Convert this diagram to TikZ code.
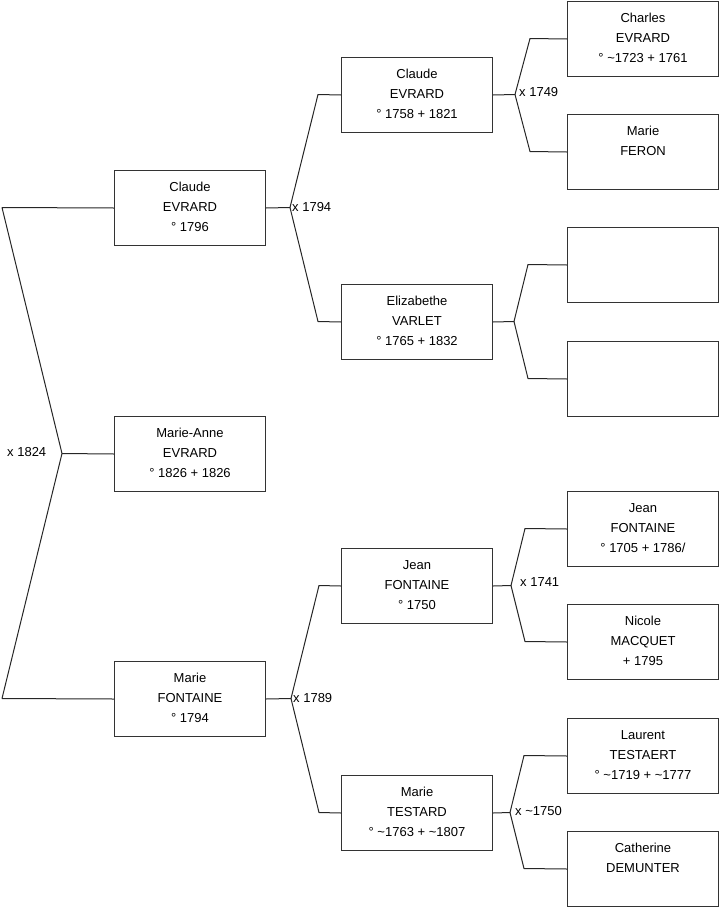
\documentclass[tikz,border=0pt]{standalone}
\usepackage{fontspec}
\setmainfont{Liberation Sans}
\newcommand\pl[3]{\parbox[c][75pt][t]{151pt}{\centering\rule{0pt}{21pt}#1\strut\\\strut #2\\\strut #3}}
\newcommand\tl{\textasciitilde}
\tikzset{
  pbox/.style={draw=black!80, line width=1pt, inner sep=0pt, minimum width=151pt, minimum height=75pt, anchor=north west, font=\fontsize{13}{20}\selectfont},
  conn/.style={draw=black!85, line width=1pt, line join=bevel},
  mlab/.style={anchor=west, inner sep=0pt, font=\fontsize{13}{20}\selectfont}
}
\begin{document}
\begin{tikzpicture}[x=1pt,y=-1pt]
\useasboundingbox (0,0) rectangle (719,908);
% level 1
\node[pbox] (a1) at (114,170) {\pl{Claude}{EVRARD}{° 1796}};
\node[pbox] (a2) at (114,416) {\pl{Marie-Anne}{EVRARD}{° 1826 + 1826}};
\node[pbox] (a3) at (114,661) {\pl{Marie}{FONTAINE}{° 1794}};
% level 2
\node[pbox] (b1) at (341,57) {\pl{Claude}{EVRARD}{° 1758 + 1821}};
\node[pbox] (b2) at (341,284) {\pl{Elizabethe}{VARLET}{° 1765 + 1832}};
\node[pbox] (b3) at (341,548) {\pl{Jean}{FONTAINE}{° 1750}};
\node[pbox] (b4) at (341,775) {\pl{Marie}{TESTARD}{° \tl1763 + \tl1807}};
% level 3
\node[pbox] (c1) at (567,1) {\pl{Charles}{EVRARD}{° \tl1723 + 1761}};
\node[pbox] (c2) at (567,114) {\pl{Marie}{FERON}{}};
\node[pbox] (c3) at (567,227) {};
\node[pbox] (c4) at (567,341) {};
\node[pbox] (c5) at (567,491) {\pl{Jean}{FONTAINE}{° 1705 + 1786/}};
\node[pbox] (c6) at (567,604) {\pl{Nicole}{MACQUET}{+ 1795}};
\node[pbox] (c7) at (567,718) {\pl{Laurent}{TESTAERT}{° \tl1719 + \tl1777}};
\node[pbox] (c8) at (567,831) {\pl{Catherine}{DEMUNTER}{}};
% left fork
\coordinate (j0) at (62,453.5);
\coordinate (l1) at (2,207.5);
\coordinate (l3) at (2,698.5);
\draw[conn] (a1.west) -- (l1) -- (j0) -- (l3) -- (a3.west);
\draw[conn] (j0) -- (a2.west);
\node[mlab] (m0) at (7,452) {x 1824};
% forks level 1 -> 2
\coordinate (j1) at (290,207.5);
\coordinate (p1) at (318,94.5);
\coordinate (q1) at (318,321.5);
\draw[conn] (a1.east) -- (j1) -- (p1) -- (b1.west);
\draw[conn] (j1) -- (q1) -- (b2.west);
\node[mlab] (m1) at (292,207) {x 1794};
\coordinate (j2) at (291,698.5);
\coordinate (p2) at (319,585.5);
\coordinate (q2) at (319,812.5);
\draw[conn] (a3.east) -- (j2) -- (p2) -- (b3.west);
\draw[conn] (j2) -- (q2) -- (b4.west);
\node[mlab] (m2) at (293,698) {x 1789};
% forks level 2 -> 3
\coordinate (j3) at (515,94.5);
\coordinate (p3) at (530,38.5);
\coordinate (q3) at (530,151.5);
\draw[conn] (b1.east) -- (j3) -- (p3) -- (c1.west);
\draw[conn] (j3) -- (q3) -- (c2.west);
\node[mlab] (m3) at (519,92) {x 1749};
\coordinate (j4) at (514,321.5);
\coordinate (p4) at (528,264.5);
\coordinate (q4) at (528,378.5);
\draw[conn] (b2.east) -- (j4) -- (p4) -- (c3.west);
\draw[conn] (j4) -- (q4) -- (c4.west);
\coordinate (j5) at (511,585.5);
\coordinate (p5) at (525,528.5);
\coordinate (q5) at (525,641.5);
\draw[conn] (b3.east) -- (j5) -- (p5) -- (c5.west);
\draw[conn] (j5) -- (q5) -- (c6.west);
\node[mlab] (m5) at (520,582) {x 1741};
\coordinate (j6) at (510,812.5);
\coordinate (p6) at (524,755.5);
\coordinate (q6) at (524,868.5);
\draw[conn] (b4.east) -- (j6) -- (p6) -- (c7.west);
\draw[conn] (j6) -- (q6) -- (c8.west);
\node[mlab] (m6) at (515,811) {x \tl1750};
\end{tikzpicture}
\end{document}
